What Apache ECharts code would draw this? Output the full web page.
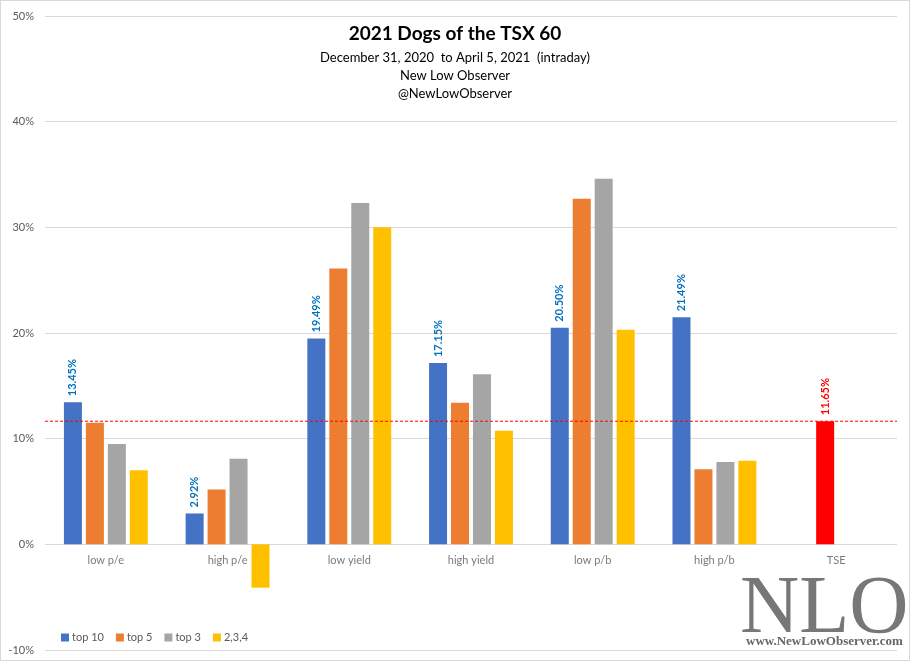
<!DOCTYPE html>
<html><head><meta charset="utf-8">
<script src="https://cdn.jsdelivr.net/npm/echarts@6/dist/echarts.min.js"></script>
<style>html,body{margin:0;padding:0;background:#fff}#c{width:910px;height:661px;box-sizing:border-box;border:1px solid #d9d9d9}</style>
</head><body><div id="c"></div>
<script>
var categories = ['low p/e','high p/e','low yield','high yield','low p/b','high p/b','TSE'];
var top10 = [13.45, 2.92, 19.49, 17.15, 20.50, 21.49, null];
var top5  = [11.5, 5.2, 26.1, 13.4, 32.7, 7.1, 11.65];
var top3  = [9.5, 8.1, 32.3, 16.1, 34.6, 7.8, null];
var s234  = [7.0, -4.1, 30.0, 10.75, 20.3, 7.9, null];
var tseValue = 11.65;

var FONT = 'Lato, "Open Sans", sans-serif';
var chart = echarts.init(document.getElementById('c'));
function pctLabel(color){
  return {show:true, position:'top', rotate:90, align:'left', verticalAlign:'middle', distance:6,
    color:color, fontWeight:'bold', fontSize:11, fontFamily:FONT, formatter:function(p){return p.value.toFixed(2)+'%';}};
}
var top5Data = top5.map(function(v,i){
  if (i === 6) return {value:v, itemStyle:{color:'#FF0000'}, label:pctLabel('#FF0000')};
  return v;
});
var catLabelData = categories.map(function(c){ return [c, 0]; });
chart.setOption({
  animation:false,
  textStyle:{fontFamily:FONT},
  title:[
    {text:'2021 Dogs of the TSX 60', left:'center', top:18, textStyle:{fontSize:19, fontWeight:'bold', color:'#000', fontFamily:FONT}},
    {text:'December 31, 2020  to April 5, 2021  (intraday)\nNew Low Observer\n@NewLowObserver', left:'center', top:43,
     textStyle:{fontSize:13, fontWeight:'normal', color:'#000', lineHeight:18, fontFamily:FONT}}
  ],
  legend:{left:55, top:626, itemWidth:8, itemHeight:8, itemGap:12, icon:'rect',
    textStyle:{fontSize:11, color:'#595959', fontFamily:FONT, padding:[0,0,0,-2]},
    data:['top 10','top 5','top 3','2,3,4']},
  grid:{left:44, right:12, top:15, bottom:10, outerBoundsMode:'none', containLabel:false},
  xAxis:[
    {type:'category', data:categories, axisLine:{show:false}, axisTick:{show:false}, axisLabel:{show:false}},
    {type:'value', min:0, max:1, show:false}
  ],
  yAxis:{type:'value', min:-10, max:50, interval:10,
    axisLabel:{color:'#595959', fontSize:11, formatter:'{value}%', margin:11, fontFamily:FONT},
    splitLine:{lineStyle:{color:'#d9d9d9'}}, axisLine:{show:false}, axisTick:{show:false}},
  series:[
    {name:'top 10', type:'bar', data:top10, barWidth:18, barGap:'22%', itemStyle:{color:'#4472C4'}, label:pctLabel('#0070C0')},
    {name:'top 5', type:'bar', data:top5Data, barWidth:18, barGap:'22%', itemStyle:{color:'#ED7D31'}},
    {name:'top 3', type:'bar', data:top3, barWidth:18, barGap:'22%', itemStyle:{color:'#A5A5A5'}},
    {name:'2,3,4', type:'bar', data:s234, barWidth:18, barGap:'22%', itemStyle:{color:'#FFC000'}},
    {name:'TSE line', type:'line', xAxisIndex:1, data:[[0, tseValue],[1, tseValue]], symbol:'none', silent:true, z:5,
     lineStyle:{color:'#FF0000', type:[3,2], width:1, opacity:1}, itemStyle:{color:'#FF0000'}},
    {name:'catLabels', type:'scatter', data:catLabelData, symbolSize:0, itemStyle:{color:'rgba(0,0,0,0)'}, silent:true, z:1,
     label:{show:true, position:'bottom', distance:11, color:'#595959', fontSize:11, fontFamily:FONT,
       formatter:function(p){return p.value[0];}}}
  ],
  graphic:[
    {type:'text', left:739, top:568, z:100, style:{text:'NLO', fontSize:82, fontFamily:'"Liberation Serif", "DejaVu Serif", serif', fill:'#777777'}},
    {type:'text', left:745, top:634, z:100, style:{text:'www.NewLowObserver.com', fontSize:13, fontWeight:'bold', fontFamily:'"Liberation Serif", serif', fill:'#666666'}}
  ]
});
</script></body></html>
